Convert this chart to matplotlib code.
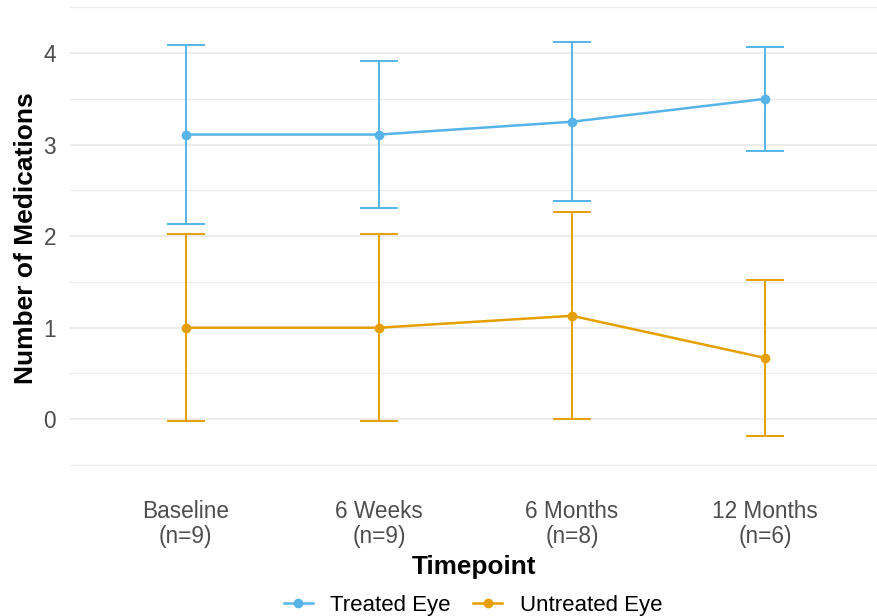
import numpy as np
import matplotlib
matplotlib.use('Agg')
import matplotlib.pyplot as plt
from matplotlib.ticker import MultipleLocator

plt.rcParams['font.family'] = ['Liberation Sans', 'DejaVu Sans']

# data
timepoints = ['Baseline\n(n=9)', '6 Weeks\n(n=9)', '6 Months\n(n=8)', '12 Months\n(n=6)']
treated_mean = [3.11, 3.11, 3.25, 3.50]
treated_sd = [0.98, 0.80, 0.87, 0.57]
untreated_mean = [1.00, 1.00, 1.13, 0.67]
untreated_sd = [1.02, 1.02, 1.13, 0.85]

treated_col = '#56B4E9'
untreated_col = '#E69F00'

W, H = 877, 616
fig = plt.figure(figsize=(W / 100, H / 100), dpi=100)
ax = fig.add_axes([70 / W, (H - 476) / H, 807 / W, 476 / H])

x = np.arange(1, len(timepoints) + 1)

for mean, sd, col, name in [(treated_mean, treated_sd, treated_col, 'Treated Eye'),
                            (untreated_mean, untreated_sd, untreated_col, 'Untreated Eye')]:
    ax.errorbar(x, mean, yerr=sd, fmt='none', ecolor=col, elinewidth=1.4,
                capsize=13.7, capthick=1.4, zorder=3)
    ax.plot(x, mean, color=col, lw=1.8, marker='o', ms=6, label=name, zorder=4)

ax.set_xlim(0.4, 4.58)
ax.set_ylim(-0.62, 4.58)
ax.set_xticks(x)
ax.set_xticklabels(timepoints, linespacing=1.12)
ax.yaxis.set_major_locator(MultipleLocator(1))
ax.yaxis.set_minor_locator(MultipleLocator(0.5))

ax.grid(axis='y', which='major', color='#EBEBEB', lw=1.3, zorder=0)
ax.grid(axis='y', which='minor', color='#EBEBEB', lw=0.9, zorder=0)
ax.set_axisbelow(True)
for s in ax.spines.values():
    s.set_visible(False)
ax.tick_params(axis='both', which='both', length=0, labelsize=16.3, labelcolor='#4D4D4D')
ax.tick_params(axis='y', pad=10)
ax.tick_params(axis='x', pad=17)

ax.set_ylabel('Number of Medications', fontsize=19, fontweight='bold', labelpad=4)
ax.set_xlabel('Timepoint', fontsize=18.8, fontweight='bold', labelpad=5)

fig.legend(loc='lower center', bbox_to_anchor=(473 / W, -0.032), ncol=2, frameon=False,
           fontsize=16, handlelength=1.3, columnspacing=1.0, handletextpad=0.8)

fig.savefig('out.png', dpi=100)
